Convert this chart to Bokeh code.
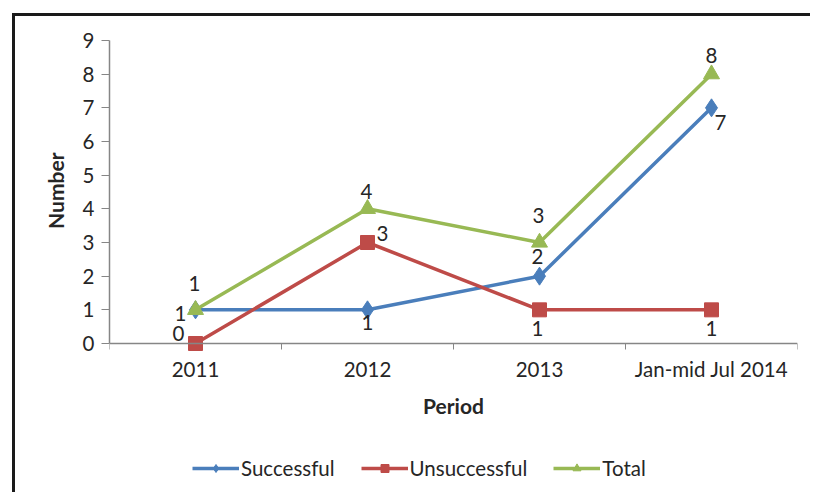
from bokeh.plotting import figure
from bokeh.models import (Range1d, FixedTicker, Legend, LegendItem,
                          ColumnDataSource, Title)
from bokeh.embed import file_html
from bokeh.resources import INLINE
from bokeh.core.properties import value

# ---- data ----
periods = ["2011", "2012", "2013", "Jan-mid Jul 2014"]
successful = [1, 1, 2, 7]
unsuccessful = [0, 3, 1, 1]
total = [1, 4, 3, 8]
y_ticks = [0, 1, 2, 3, 4, 5, 6, 7, 8, 9]

# ---- styles ----
FONT = "Lato"
BLUE = "#4A7EBB"
RED = "#BE4B48"
GREEN = "#98B954"
TXT = "#262626"
AX = "#868686"

OX, OY = 15, 16            # canvas origin on page (after frame margin + border)
W, H = 813 - OX, 495 - OY
PLOT_L, PLOT_R, PLOT_T, PLOT_B0 = 109, 797, 40, 343   # page px of axes box
FRAME_B = 492                                          # frame extends under legend
ymax = max(y_ticks)
px_per_unit = (PLOT_B0 - PLOT_T) / ymax
ymin = -(FRAME_B - PLOT_B0) / px_per_unit

p = figure(width=W, height=H, output_backend="svg", toolbar_location=None,
           x_range=Range1d(0, len(periods)), y_range=Range1d(ymin, ymax),
           min_border_left=PLOT_L - OX, min_border_right=(OX + W) - PLOT_R,
           min_border_top=PLOT_T - OY, min_border_bottom=(OY + H) - FRAME_B)
p.styles = {"margin-left": "12px", "margin-top": "13px",
            "border-left": "3px solid #1a1a1a",
            "border-top": "3px solid #1a1a1a"}
p.outline_line_color = None
p.grid.visible = False
p.background_fill_color = "white"
p.border_fill_color = "white"

xs = [i + 0.5 for i in range(len(periods))]

# x axis: labels at category centres, ticks at boundaries; sits at y = 0
xa = p.xaxis[0]
xa.fixed_location = 0
xa.ticker = FixedTicker(ticks=xs, minor_ticks=list(range(len(periods) + 1)))
xa.major_label_overrides = {x: lab for x, lab in zip(xs, periods)}
xa.major_tick_out = 0
xa.major_tick_in = 0
xa.minor_tick_out = 6
xa.minor_tick_in = 0
xa.minor_tick_line_color = AX
xa.axis_line_color = AX
xa.axis_line_width = 1.5
xa.major_label_text_font = FONT
xa.major_label_text_font_size = "20.5px"
xa.major_label_text_color = TXT
xa.major_label_standoff = 7
xa.axis_label = "Period"
xa.axis_label_text_font = FONT
xa.axis_label_text_font_style = "bold"
xa.axis_label_text_font_size = "21px"
xa.axis_label_text_color = TXT
xa.axis_label_standoff = 9

ya = p.yaxis[0]
ya.bounds = (0, ymax)
ya.ticker = FixedTicker(ticks=y_ticks, minor_ticks=[])
ya.major_tick_out = 8
ya.major_tick_in = 0
ya.minor_tick_out = 0
ya.major_tick_line_color = AX
ya.axis_line_color = AX
ya.axis_line_width = 1.5
ya.major_label_text_font = FONT
ya.major_label_text_font_size = "20.5px"
ya.major_label_text_color = TXT
ya.major_label_standoff = 7

# y-axis title, centred on the 0..9 axis span rather than the whole frame
ytitle = Title(text="Number", align="right", offset=112,
               text_font=FONT, text_font_style="bold", text_font_size="21px",
               text_color=TXT, standoff=24)
p.add_layout(ytitle, "left")

# label placement (screen px offsets, +y is down)
label_offsets = {
    "succ": [(-15, 4), (0, 13), (-2, -20), (9, 15)],
    "unsu": [(-17, -10), (15, -9), (-2, 19), (0, 19)],
    "tot": [(-1, -26), (-1, -17), (-1, -27), (0, -19)],
}

series = [
    ("Successful", successful, BLUE, "diamond", 18, "succ"),
    ("Unsuccessful", unsuccessful, RED, "square", 14, "unsu"),
    ("Total", total, GREEN, "triangle", 16, "tot"),
]

items = []
for name, vals, col, marker, size, key in series:
    src = ColumnDataSource(dict(
        x=xs, y=vals, t=[str(v) for v in vals],
        dx=[o[0] for o in label_offsets[key]],
        dy=[o[1] for o in label_offsets[key]],
    ))
    ln = p.line("x", "y", source=src, line_color=col, line_width=3.5)
    sc = p.scatter("x", "y", source=src, marker=marker, size=size,
                   fill_color=col, line_color=col)
    items.append(LegendItem(label=name, renderers=[ln, sc]))
    p.text("x", "y", text="t", source=src, x_offset="dx", y_offset="dy",
           text_font=value(FONT), text_font_size="20.5px", text_color=TXT,
           text_align="center", text_baseline="middle")

legend = Legend(items=items, orientation="horizontal", location=(83, 12),
                glyph_width=47, glyph_height=20, label_standoff=2, spacing=26,
                padding=0, margin=0, border_line_color=None,
                background_fill_alpha=0,
                label_text_font=FONT, label_text_font_size="20.5px",
                label_text_color=TXT)
p.add_layout(legend, "center")

open("out.html", "w").write(file_html(p, INLINE))
